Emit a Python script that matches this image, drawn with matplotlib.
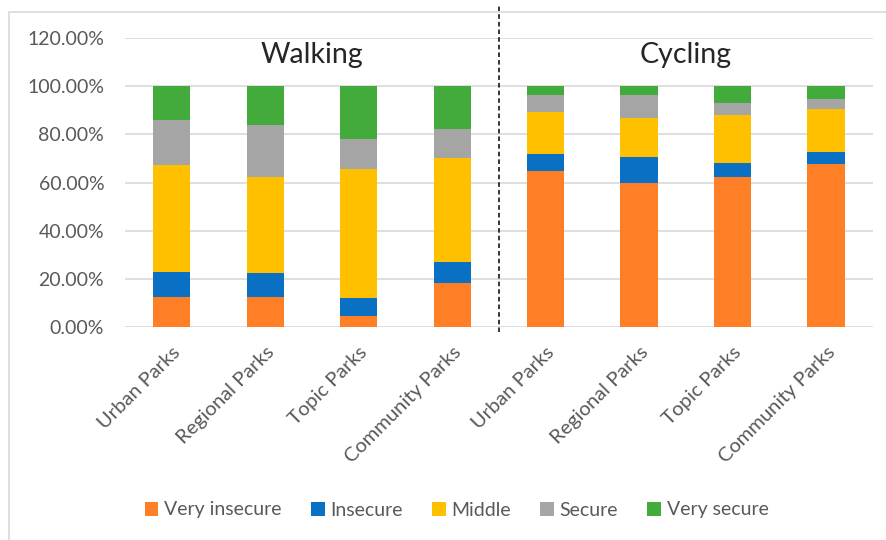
import matplotlib.pyplot as plt
from matplotlib.patches import Rectangle
import numpy as np

# categories (walking then cycling)
parks = ['Urban Parks', 'Regional Parks', 'Topic Parks', 'Community Parks',
         'Urban Parks', 'Regional Parks', 'Topic Parks', 'Community Parks']
levels = ['Very insecure', 'Insecure', 'Middle', 'Secure', 'Very secure']

# share of respondents (%) per level
very_insecure = [12.5, 12.5, 4.8, 18.3, 64.7, 59.7, 62.2, 67.6]
insecure = [10.6, 9.9, 7.4, 8.6, 7.3, 10.8, 5.7, 5.1]
middle = [44.1, 39.9, 53.6, 43.3, 17.3, 16.3, 20.0, 17.7]
secure = [18.7, 21.5, 12.3, 11.8, 7.0, 9.5, 4.9, 4.3]
very_secure = [14.1, 16.2, 21.9, 18.0, 3.7, 3.7, 7.2, 5.3]

groups = ['Walking', 'Cycling']

colors = ['#FF7F27', '#0A70C4', '#FFC000', '#A5A5A5', '#43AB3B']
series = [very_insecure, insecure, middle, secure, very_secure]

plt.rcParams['font.family'] = ['Lato', 'DejaVu Sans']

fig = plt.figure(figsize=(8.87, 5.40), dpi=100)
ax = fig.add_axes([0.141, 0.394, 0.843, 0.536])

x = np.arange(len(parks))
bottom = np.zeros(len(parks))
for vals, lab, col in zip(series, levels, colors):
    v = np.array(vals) / 100
    ax.bar(x, v, width=0.4, bottom=bottom, color=col, label=lab, zorder=3)
    bottom += v

ax.set_xlim(-0.5, len(parks) - 0.5)
ax.set_ylim(0, 1.2)
ax.set_yticks(np.arange(0, 1.21, 0.2))
ax.set_yticklabels([f'{t * 100:.2f}%' for t in np.arange(0, 1.21, 0.2)])
ax.yaxis.grid(True, color='#D9D9D9', linewidth=1.2, zorder=0)
ax.set_axisbelow(True)
for s in ax.spines.values():
    s.set_visible(False)
ax.tick_params(length=0, labelsize=14, colors='#595959')
ax.tick_params(axis='y', pad=15)
ax.set_xticks(x)
ax.set_xticklabels(parks, rotation=45, ha='right', va='top',
                   rotation_mode='anchor', fontsize=14.5)
ax.tick_params(axis='x', pad=12)

# group titles and divider
ax.text(1.5, 1.13, groups[0], ha='center', va='center', fontsize=20.5, color='#262626')
ax.text(5.5, 1.13, groups[1], ha='center', va='center', fontsize=20.5, color='#262626')
ax.plot([3.5, 3.5], [-0.02, 1.33], color='black', linestyle=(0, (3, 2)),
        linewidth=1.1, clip_on=False, zorder=4)

# outer chart frame
fig.patches.append(Rectangle((9 / 887, -0.1), 1.2, 1 - 12 / 540 + 0.1,
                             transform=fig.transFigure, fill=False,
                             edgecolor='#D9D9D9', linewidth=1.2))

fig.legend(loc='center', bbox_to_anchor=(0.515, 1 - 510 / 540), ncol=5,
           frameon=False, fontsize=14, handlelength=0.7, handleheight=0.7,
           handletextpad=0.3, columnspacing=1.5, labelcolor='#595959')

fig.savefig('out.png', dpi=100)
